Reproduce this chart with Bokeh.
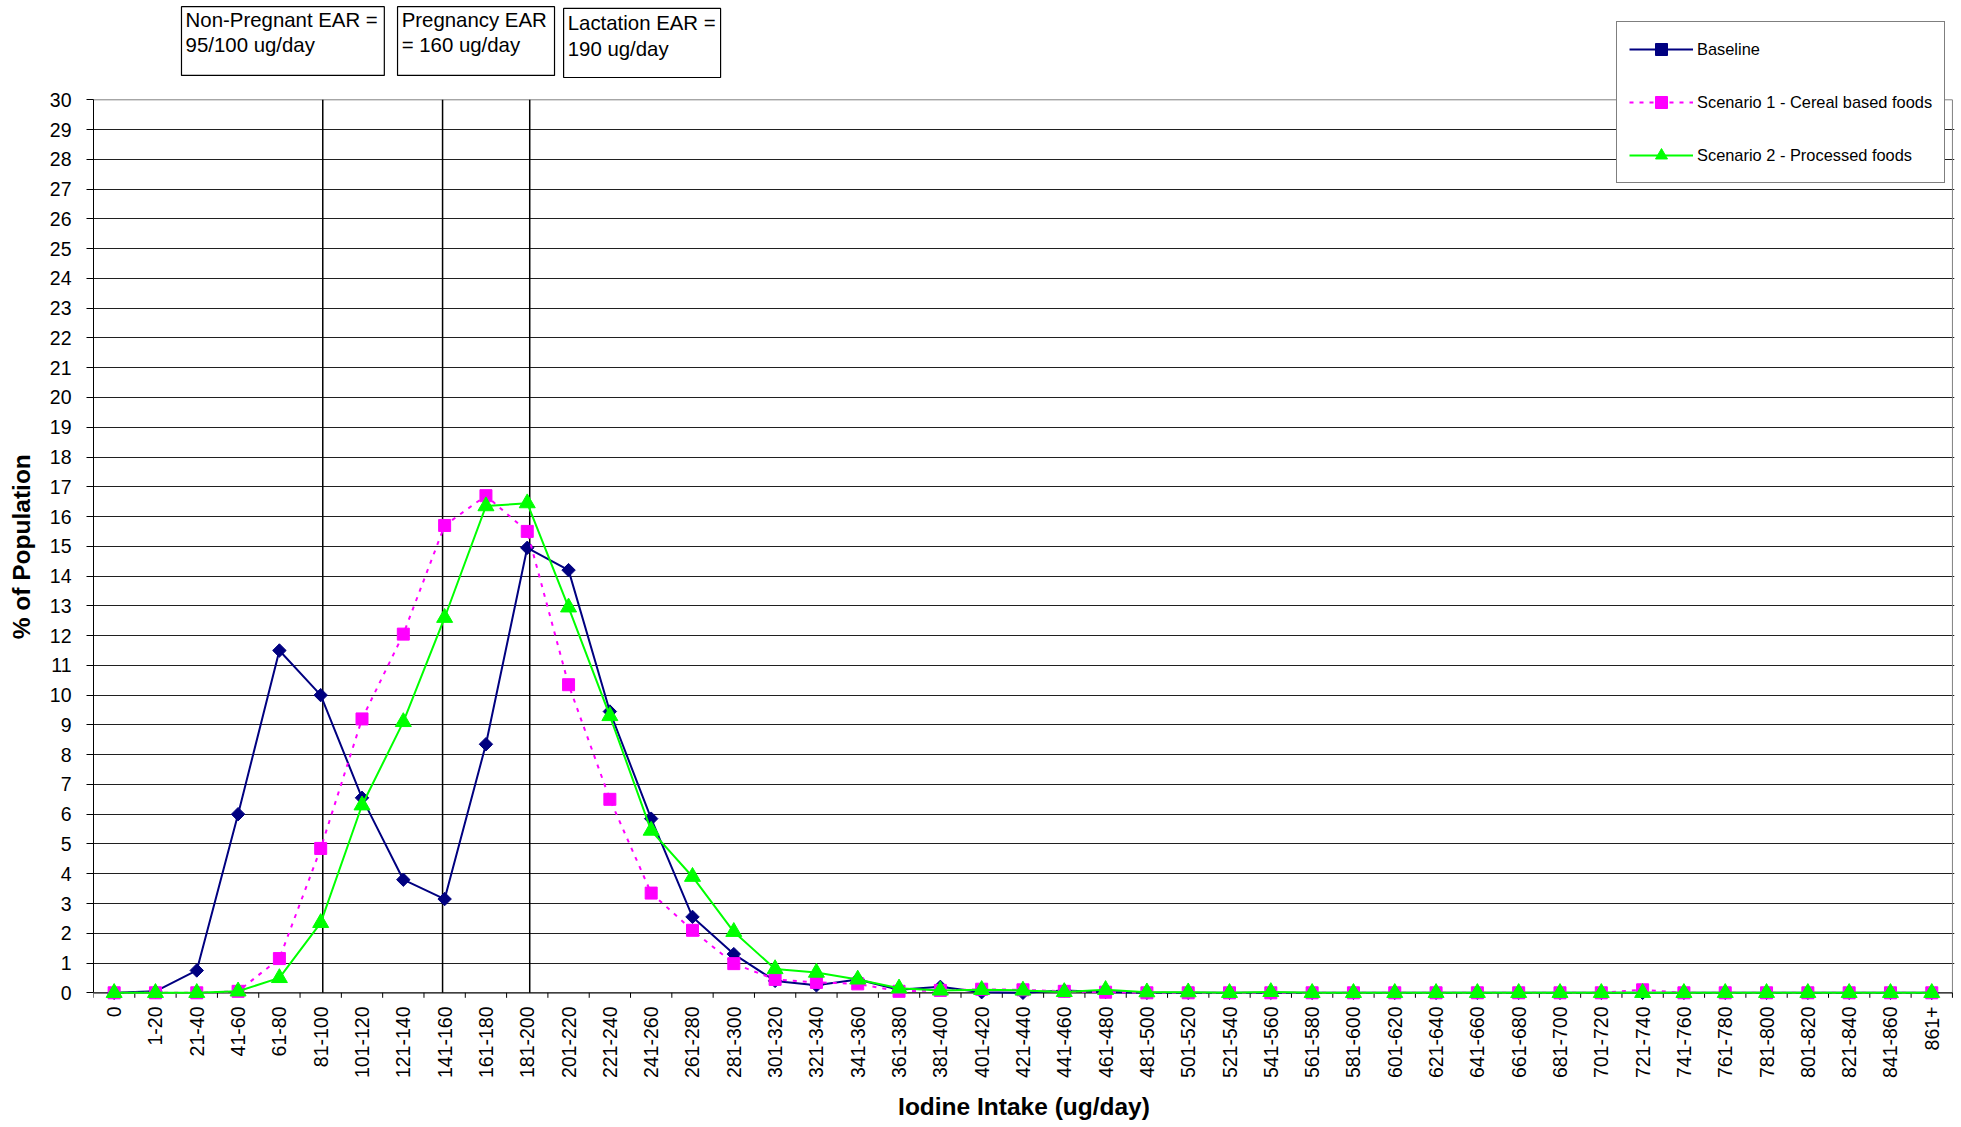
import math

from bokeh.core.properties import value
from bokeh.embed import file_html
from bokeh.models import ColumnDataSource, FixedTicker, Legend, LegendItem, Range1d
from bokeh.plotting import figure
from bokeh.resources import INLINE

# Intake bands (ug/day)
categories = ["0"] + [f"{20 * k - 19}-{20 * k}" for k in range(1, 44)] + ["861+"]

# % of population in each intake band
baseline = [0.0, 0.05, 0.75, 6.0, 11.5, 10.0, 6.55, 3.8, 3.15, 8.35,
            14.95, 14.2, 9.45, 5.85, 2.55, 1.3, 0.4, 0.25, 0.45, 0.1,
            0.2, 0.02, 0.0, 0.08, 0.03, 0.0, 0.0, 0.0, 0.0, 0.0,
            0.0, 0.0, 0.0, 0.0, 0.0, 0.0, 0.0, 0.0, 0.0, 0.0,
            0.0, 0.0, 0.0, 0.0, 0.0]
scenario1 = [0.0, 0.0, 0.0, 0.05, 1.15, 4.85, 9.2, 12.05, 15.7, 16.7,
             15.5, 10.35, 6.5, 3.35, 2.1, 0.98, 0.45, 0.35, 0.3, 0.05,
             0.08, 0.12, 0.1, 0.05, 0.02, 0.0, 0.0, 0.0, 0.0, 0.0,
             0.0, 0.0, 0.0, 0.0, 0.0, 0.0, 0.0, 0.1, 0.0, 0.0,
             0.0, 0.0, 0.0, 0.0, 0.0]
scenario2 = [0.0, 0.0, 0.0, 0.05, 0.5, 2.35, 6.3, 9.1, 12.6, 16.35,
             16.45, 12.95, 9.3, 5.45, 3.9, 2.05, 0.8, 0.68, 0.45, 0.15,
             0.08, 0.1, 0.08, 0.03, 0.1, 0.02, 0.02, 0.0, 0.03, 0.0,
             0.0, 0.0, 0.0, 0.0, 0.0, 0.0, 0.0, 0.0, 0.0, 0.0,
             0.0, 0.0, 0.0, 0.0, 0.0]

# EAR reference lines (category positions) and their captions
ear_x = [5.05, 7.95, 10.06]
ear_captions = [("Non-Pregnant EAR =", "95/100 ug/day"),
                ("Pregnancy EAR", "= 160 ug/day"),
                ("Lactation EAR =", "190 ug/day")]
# caption boxes: left, right, top, bottom (axis units)
ear_boxes = [(1.63, 6.54, 33.13, 30.82),
             (6.86, 10.66, 33.13, 30.82),
             (10.88, 14.68, 33.07, 30.75)]

FONT = "Liberation Sans"
y_max = 30
n = len(categories)
x_lo, x_hi = -0.5, n - 0.5
tick_len = 0.168  # 5 px below the category axis

x = list(range(n))
src = ColumnDataSource(dict(x=x, baseline=baseline, s1=scenario1, s2=scenario2))

p = figure(width=1961, height=1127, output_backend="svg", toolbar_location=None,
           x_range=Range1d(x_lo, x_hi + 0.05), y_range=Range1d(-0.393, 33.336),
           min_border_left=93, min_border_right=7, min_border_top=0,
           min_border_bottom=123)
p.outline_line_color = None
p.background_fill_color = "white"
p.border_fill_color = "white"

# horizontal grid
p.xgrid.visible = False
p.ygrid.ticker = FixedTicker(ticks=list(range(1, y_max)))
p.ygrid.grid_line_color = "#202020"
p.ygrid.grid_line_width = 1

# y axis
yax = p.yaxis[0]
yax.ticker = FixedTicker(ticks=list(range(0, y_max + 1)))
yax.bounds = (0, y_max)
yax.axis_line_color = "black"
yax.major_tick_out = 7
yax.major_tick_in = 0
yax.major_tick_line_color = "black"
yax.minor_tick_out = 0
yax.minor_tick_in = 0
yax.major_label_text_font = FONT
yax.major_label_text_font_size = "19.5px"
yax.major_label_text_color = "black"
yax.major_label_standoff = 15
# the frame runs above the 0-30 scale (caption boxes live there), so the title
# is padded at its top end with no-break spaces to sit centred on the scale
yax.axis_label = "% of Population" + "\u00a0" * 13
yax.axis_label_text_font = FONT
yax.axis_label_text_font_size = "24.5px"
yax.axis_label_text_font_style = "bold"
yax.axis_label_text_color = "black"
yax.axis_label_standoff = 12

# x axis: band labels only; the axis line and the between-band ticks sit at y = 0
xax = p.xaxis[0]
xax.ticker = FixedTicker(ticks=x)
xax.major_label_overrides = {i: lab for i, lab in enumerate(categories)}
xax.major_label_orientation = math.pi / 2
xax.axis_line_color = None
xax.major_tick_line_color = None
xax.minor_tick_line_color = None
xax.major_tick_out = 0
xax.major_tick_in = 0
xax.major_label_text_font = FONT
xax.major_label_text_font_size = "19.5px"
xax.major_label_text_color = "black"
xax.major_label_standoff = 2
xax.axis_label = "Iodine Intake (ug/day)"
xax.axis_label_text_font = FONT
xax.axis_label_text_font_size = "24.5px"
xax.axis_label_text_font_style = "bold"
xax.axis_label_text_color = "black"
xax.axis_label_standoff = 12

# plot-area border (top and right)
p.segment(x0=[x_lo, x_hi], y0=[y_max, 0], x1=[x_hi, x_hi], y1=[y_max, y_max],
          line_color="#808080", line_width=1)

# EAR reference lines
p.segment(x0=ear_x, y0=[0] * 3, x1=ear_x, y1=[y_max] * 3,
          line_color="black", line_width=1.5)

# category axis line and tick marks between bands
edges = [i - 0.5 for i in range(n + 1)]
p.segment(x0=edges, y0=[0] * len(edges), x1=edges, y1=[-tick_len] * len(edges),
          line_color="black", line_width=1)
p.segment(x0=[x_lo], y0=[0], x1=[x_hi], y1=[0], line_color="black", line_width=1.2)

# caption boxes above the plot
p.quad(left=[b[0] for b in ear_boxes], right=[b[1] for b in ear_boxes],
       top=[b[2] for b in ear_boxes], bottom=[b[3] for b in ear_boxes],
       fill_color="white", line_color="black", line_width=1.2)
line1_y = [32.665, 32.665, 32.58]
line2_y = [31.825, 31.825, 31.71]
p.text(x=[b[0] + 0.1 for b in ear_boxes], y=line1_y, text=[c[0] for c in ear_captions],
       text_font=value(FONT), text_font_size="20.4px", text_color="black",
       text_baseline="middle", text_align="left")
p.text(x=[b[0] + 0.1 for b in ear_boxes], y=line2_y, text=[c[1] for c in ear_captions],
       text_font=value(FONT), text_font_size="20.4px", text_color="black",
       text_baseline="middle", text_align="left")

# series
l0 = p.line("x", "baseline", source=src, line_color="#000080", line_width=2)
m0 = p.scatter("x", "baseline", source=src, marker="square", angle=math.pi / 4,
               size=9.5, fill_color="#000080", line_color="#000080")
l1 = p.line("x", "s1", source=src, line_color="#FF00FF", line_width=2, line_dash="4 6")
m1 = p.scatter("x", "s1", source=src, marker="square", size=12,
               fill_color="#FF00FF", line_color="#FF00FF")
l2 = p.line("x", "s2", source=src, line_color="#00FF00", line_width=2)
m2 = p.scatter("x", "s2", source=src, marker="triangle", size=16,
               fill_color="#00FF00", line_color="#00FF00")

legend = Legend(items=[LegendItem(label="Baseline", renderers=[l0, m0]),
                       LegendItem(label="Scenario 1 - Cereal based foods", renderers=[l1, m1]),
                       LegendItem(label="Scenario 2 - Processed foods", renderers=[l2, m2])],
                location=(1523, 821), orientation="vertical",
                border_line_color="black", border_line_width=1,
                background_fill_color="white", background_fill_alpha=1.0,
                padding=12, spacing=23, margin=0,
                glyph_height=30, glyph_width=64, label_height=30, label_standoff=4,
                label_text_font=FONT, label_text_font_size="16.4px",
                label_text_color="black")
p.add_layout(legend)

open("out.html", "w").write(file_html(p, INLINE))
